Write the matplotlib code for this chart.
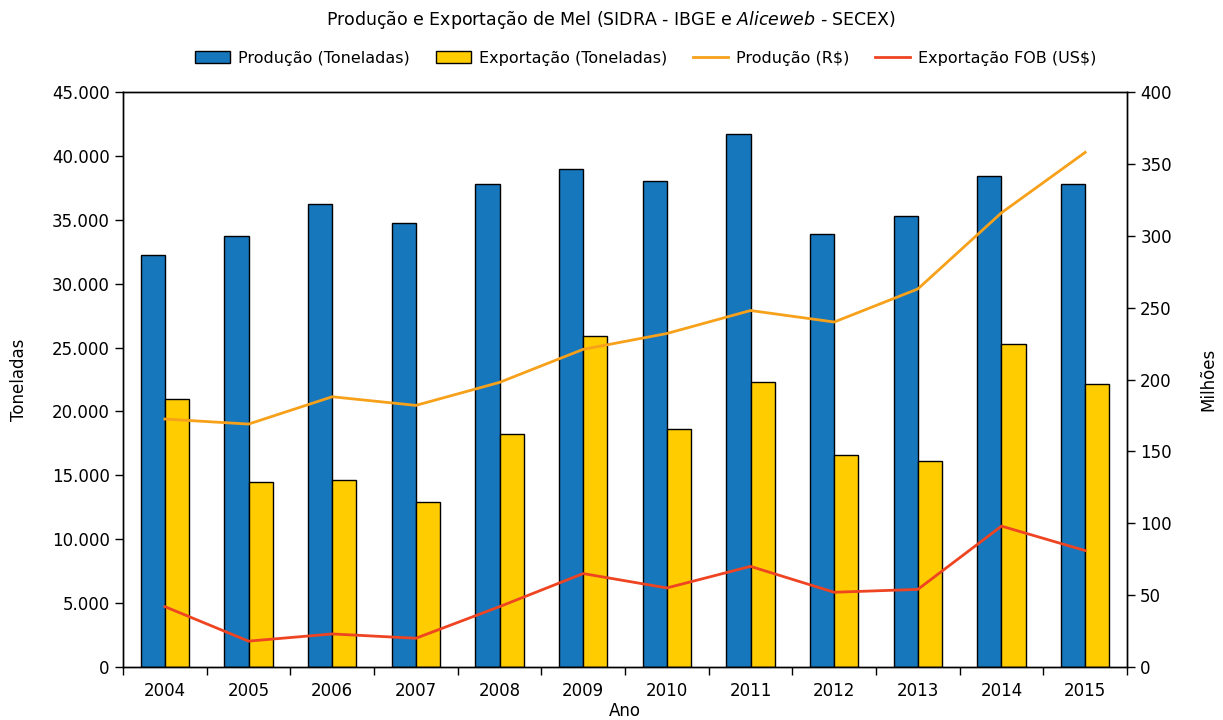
import numpy as np
import matplotlib.pyplot as plt
from matplotlib.ticker import FuncFormatter

# Dados (SIDRA - IBGE e Aliceweb - SECEX)
anos = ['2004', '2005', '2006', '2007', '2008', '2009',
        '2010', '2011', '2012', '2013', '2014', '2015']
producao_ton = [32250, 33750, 36200, 34750, 37800, 38970,
                38030, 41750, 33900, 35300, 38430, 37800]
exportacao_ton = [21000, 14450, 14600, 12900, 18230, 25900,
                  18620, 22300, 16600, 16120, 25280, 22150]
producao_rs = [172.5, 169, 188, 182, 198, 221, 232, 248, 240, 263, 316, 358]
exportacao_us = [42, 18, 23, 20, 42, 65, 55, 70, 52, 54, 98, 81]

cor_azul = '#1777bd'
cor_amarela = '#ffcc00'
cor_laranja = '#f7a11a'
cor_vermelha = '#ee4422'

plt.rcParams['font.family'] = ['DejaVu Sans']

fig = plt.figure(figsize=(12.23, 7.2), dpi=100)
ax = fig.add_axes([0.1006, 0.0736, 0.8209, 0.7986])
ax2 = ax.twinx()

x = np.arange(len(anos))
largura = 0.29

ax.bar(x - largura / 2, producao_ton, largura, color=cor_azul, edgecolor='black',
       linewidth=1, label='Produção (Toneladas)', zorder=2)
ax.bar(x + largura / 2, exportacao_ton, largura, color=cor_amarela, edgecolor='black',
       linewidth=1, label='Exportação (Toneladas)', zorder=2)

ax2.plot(x, producao_rs, color=cor_laranja, linewidth=2, label='Produção (R$)')
ax2.plot(x, exportacao_us, color=cor_vermelha, linewidth=2, label='Exportação FOB (US$)')

# Eixos
ax.set_xlim(-0.5, len(anos) - 0.5)
ax.set_ylim(0, 45000)
ax2.set_ylim(0, 400)
ax.set_yticks(np.arange(0, 45001, 5000))
ax2.set_yticks(np.arange(0, 401, 50))
ax.yaxis.set_major_formatter(FuncFormatter(lambda v, p: f'{int(v):,}'.replace(',', '.')))

ax.set_xticks(x)
ax.set_xticklabels(anos)
ax.set_xticks(np.arange(-0.5, len(anos), 1), minor=True)
ax.tick_params(axis='x', which='major', length=0, labelsize=12, pad=11)
ax.tick_params(axis='x', which='minor', length=6, width=1, direction='out')
ax.tick_params(axis='y', length=6, width=1, labelsize=12, direction='out')
ax2.tick_params(axis='y', length=6, width=1, labelsize=12, direction='out')

for s in ax.spines.values():
    s.set_linewidth(1)
for s in ax2.spines.values():
    s.set_linewidth(1)

ax.set_xlabel('Ano', fontsize=12, labelpad=1)
ax.set_ylabel('Toneladas', fontsize=12, labelpad=17)
ax2.set_ylabel('Milhões', fontsize=12, rotation=90, labelpad=20)

fig.text(0.5, 0.972, 'Produção e Exportação de Mel (SIDRA - IBGE e $\\it{Aliceweb}$ - SECEX)',
         ha='center', va='center', fontsize=12.5)

h1, l1 = ax.get_legend_handles_labels()
h2, l2 = ax2.get_legend_handles_labels()
fig.legend(h1 + h2, l1 + l2, loc='center', bbox_to_anchor=(0.528, 0.919), ncol=4,
           frameon=False, fontsize=11.5, handlelength=2.2, handleheight=0.8,
           columnspacing=1.6, handletextpad=0.5)

plt.savefig('out.png', dpi=100)
